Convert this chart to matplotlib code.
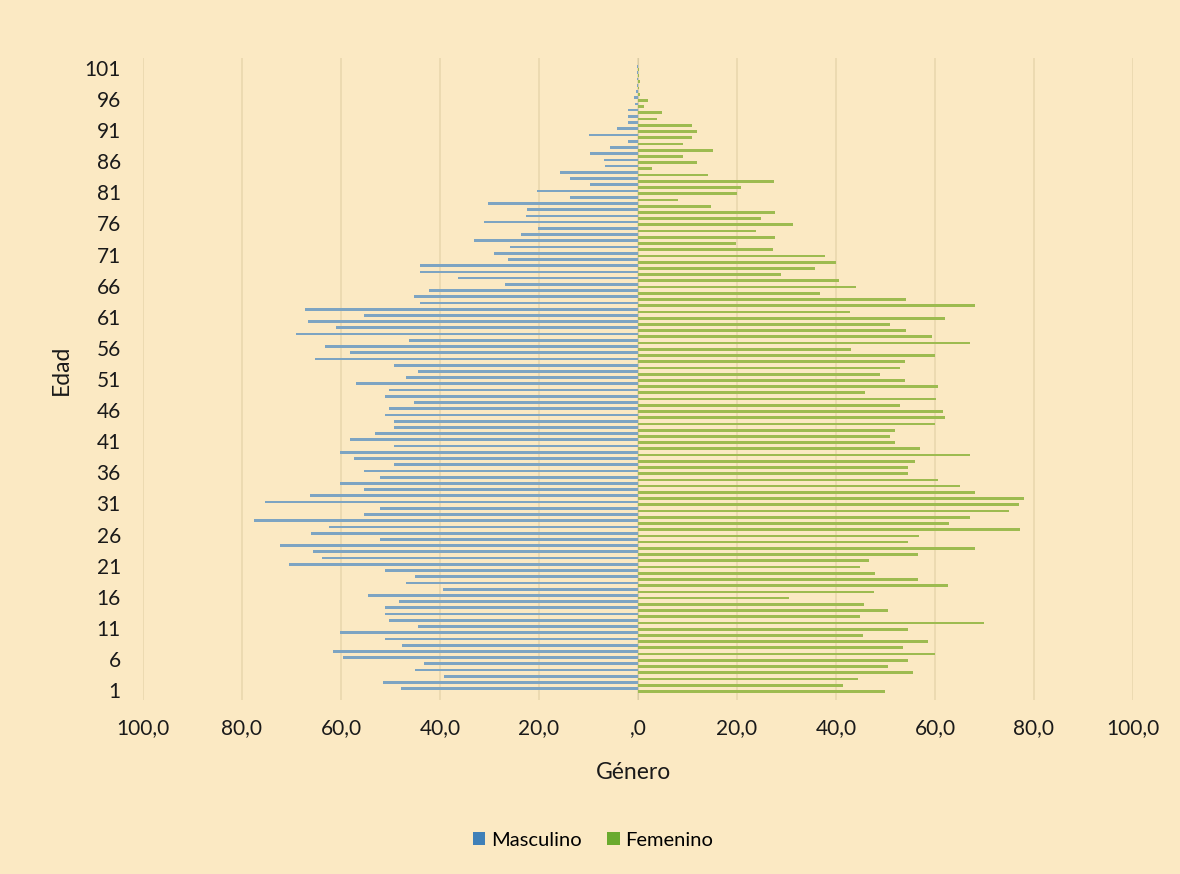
import numpy as np
import matplotlib.pyplot as plt
from matplotlib.patches import Patch

# Population by single year of age (1..101), percent-style scale
ages = list(range(1, 102))

masculino = [
    47.9, 51.5, 39.1, 45.1, 43.3, 59.6, 61.7, 47.6, 51.1, 60.3,   # 1-10
    44.4, 50.4, 51.1, 51.1, 48.3, 54.6, 39.4, 46.9, 45.1, 51.1,   # 11-20
    70.5, 63.8, 65.6, 72.3, 52.2, 66.0, 62.4, 77.5, 55.3, 52.2,   # 21-30
    75.4, 66.2, 55.3, 60.3, 52.2, 55.3, 49.2, 57.4, 60.3, 49.2,   # 31-40
    58.1, 53.2, 49.2, 49.2, 51.1, 50.4, 45.2, 51.1, 50.4, 56.9,   # 41-50
    46.9, 44.5, 49.2, 65.2, 58.1, 63.2, 46.2, 69.0, 61.0, 66.6,   # 51-60
    55.3, 67.3, 44.1, 45.2, 42.3, 26.9, 36.4, 44.1, 44.1, 26.2,   # 61-70
    29.0, 25.8, 33.2, 23.7, 20.2, 31.1, 22.7, 22.4, 30.4, 13.7,   # 71-80
    20.5, 9.6, 13.7, 15.8, 6.6, 6.8, 9.6, 5.6, 2.1, 10.0,         # 81-90
    4.2, 2.1, 2.1, 2.1, 0.6, 0.9, 0.4, 0.3, 0.3, 0.3,             # 91-100
    0.3,                                                          # 101
]

femenino = [
    49.9, 41.4, 44.5, 55.6, 50.5, 54.6, 60.0, 53.6, 58.6, 45.5,   # 1-10
    54.6, 69.8, 44.8, 50.5, 45.6, 30.6, 47.7, 62.7, 56.6, 47.8,   # 11-20
    44.8, 46.6, 56.6, 68.1, 54.6, 56.8, 77.2, 62.8, 67.1, 74.9,   # 21-30
    76.9, 77.9, 68.1, 65.1, 60.7, 54.6, 54.6, 55.9, 67.1, 57.0,   # 31-40
    51.9, 50.9, 51.9, 60.0, 62.0, 61.7, 52.9, 60.3, 45.8, 60.7,   # 41-50
    53.9, 48.9, 52.9, 53.9, 60.0, 43.1, 67.1, 59.3, 54.1, 50.9,   # 51-60
    62.0, 42.8, 68.1, 54.1, 36.7, 44.1, 40.7, 28.9, 35.7, 39.9,   # 61-70
    37.7, 27.2, 19.8, 27.6, 23.9, 31.3, 24.9, 27.6, 14.7, 8.0,    # 71-80
    20.0, 20.8, 27.4, 14.1, 2.8, 12.0, 9.0, 15.1, 9.0, 11.0,      # 81-90
    12.0, 11.0, 3.9, 4.9, 1.2, 2.0, 0.5, 0.3, 0.4, 0.3,           # 91-100
    0.3,                                                          # 101
]

x_ticks = [-100, -80, -60, -40, -20, 0, 20, 40, 60, 80, 100]
x_ticklabels = ["100,0", "80,0", "60,0", "40,0", "20,0", ",0",
                "20,0", "40,0", "60,0", "80,0", "100,0"]
y_ticks = list(range(1, 102, 5))

bg = "#fbe9c3"
c_masc = "#7da4c2"
c_fem = "#9dbb50"
txt = "#1a1a1a"

plt.rcParams['font.family'] = ['Lato', 'DejaVu Sans']

fig = plt.figure(figsize=(11.8, 8.74), dpi=100, facecolor=bg)
ax = fig.add_axes([143 / 1180, 1 - 700 / 874, 990 / 1180, 642 / 874])
ax.set_facecolor(bg)

y = np.array(ages)
ax.barh(y + 0.22, -np.array(masculino), height=0.44, color=c_masc,
        linewidth=0, label="Masculino", zorder=3)
ax.barh(y - 0.22, femenino, height=0.44, color=c_fem,
        linewidth=0, label="Femenino", zorder=3)

ax.set_xlim(-100, 100)
ax.set_ylim(-0.6, 102.6)

ax.set_xticks(x_ticks)
ax.set_xticklabels(x_ticklabels, fontsize=15, color=txt)
ax.set_yticks(y_ticks)
ax.set_yticklabels([str(v) for v in y_ticks], fontsize=15, color=txt)
ax.tick_params(axis='both', length=0)
ax.tick_params(axis='x', pad=13)
ax.tick_params(axis='y', pad=16)

# faint vertical gridlines behind the bars
ax.grid(axis='x', color="#e9d7ae", linewidth=1.2, zorder=0)
ax.grid(axis='y', visible=False)
ax.axvline(0, color="#d9cba6", linewidth=0.8, zorder=2)
for s in ax.spines.values():
    s.set_visible(False)

ax.set_xlabel("Género", fontsize=16.5, color=txt)
ax.xaxis.set_label_coords(0.495, -(762 - 700) / 642)
ax.set_ylabel("Edad", fontsize=16.5, color=txt)
ax.yaxis.set_label_coords(-(143 - 72) / 990, (700 - 370) / 642)

handles = [Patch(facecolor="#3f80b8", label="Masculino"),
           Patch(facecolor="#6aaa2e", label="Femenino")]
fig.legend(handles=handles, loc='center', bbox_to_anchor=(593 / 1180, 1 - 840 / 874),
           ncol=2, frameon=False, fontsize=14.5, handlelength=0.6, handleheight=0.6,
           handletextpad=0.3, columnspacing=1.3)

fig.savefig("out.png", dpi=100, facecolor=bg)
